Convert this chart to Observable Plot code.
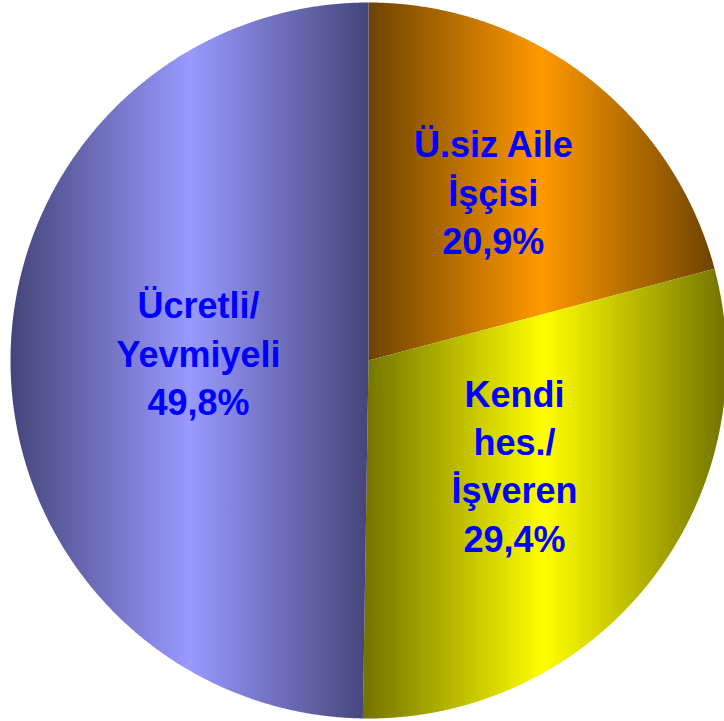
<!DOCTYPE html>
<html><head><meta charset="utf-8">
<script src="https://cdn.jsdelivr.net/npm/d3@7"></script>
<script src="https://cdn.jsdelivr.net/npm/@observablehq/plot@0.6"></script>
<style>html,body{margin:0;padding:0;background:#fff;overflow:hidden}</style>
</head><body><div id="chart"></div>
<script>
// Data
const categories = ["Ü.siz Aile\nİşçisi", "Kendi\nhes./\nİşveren", "Ücretli/\nYevmiyeli"];
const values = [20.9, 29.4, 49.8];
// Styles
const lightColors = ["#FF9900", "#FFFF00", "#9999FF"];
const darkColors = ["#6E4300", "#727200", "#45457A"];
const labelRadius = [0.59, 0.5, 0.475];
const labelShift = [[-4, -3], [5, -7], [0, -8]];

const arcs = d3.pie().sort(null).value(d => d)(values);
const slices = arcs.map((p, i) => {
  const pts = [{x: 0, y: 0, i}];
  const n = Math.max(2, Math.ceil((p.endAngle - p.startAngle) / 0.004));
  for (let k = 0; k <= n; k++) {
    const a = p.startAngle + (p.endAngle - p.startAngle) * k / n;
    pts.push({x: Math.sin(a), y: Math.cos(a), i});
  }
  pts.push({x: 0, y: 0, i});
  return pts;
});
const fmt = v => v.toFixed(1).replace(".", ",") + "%";
const labels = arcs.map((p, i) => {
  const a = (p.startAngle + p.endAngle) / 2;
  return {x: labelRadius[i] * Math.sin(a), y: labelRadius[i] * Math.cos(a),
          text: categories[i] + "\n" + fmt(values[i]), dx: labelShift[i][0], dy: labelShift[i][1]};
});

const svg = Plot.plot({
  width: 724, height: 721, margin: 0,
  x: {domain: [-1, 1], range: [10, 726], axis: null},
  y: {domain: [-1, 1], range: [718, 2], axis: null},
  style: {background: "white", overflow: "hidden"},
  marks: [
    ...slices.map((pts, i) => Plot.line(pts, {x: "x", y: "y", fill: `url(#grad${i})`, stroke: "none"})),
    ...labels.map(l => Plot.text([l], {x: "x", y: "y", text: "text", dx: l.dx, dy: l.dy,
      fill: "#0000FF", fontSize: 36, fontWeight: "bold", fontFamily: "Liberation Sans, Arial, sans-serif",
      lineHeight: 1.34, textAnchor: "middle", lineAnchor: "middle"}))
  ]
});

const defs = d3.select(svg).insert("defs", ":first-child");
lightColors.forEach((c, i) => {
  const g = defs.append("linearGradient").attr("id", `grad${i}`)
    .attr("x1", 0).attr("y1", 0).attr("x2", 1).attr("y2", 0);
  g.append("stop").attr("offset", 0).attr("stop-color", darkColors[i]);
  g.append("stop").attr("offset", 0.5).attr("stop-color", c);
  g.append("stop").attr("offset", 1).attr("stop-color", darkColors[i]);
});
document.getElementById("chart").appendChild(svg);
</script>
</body></html>
